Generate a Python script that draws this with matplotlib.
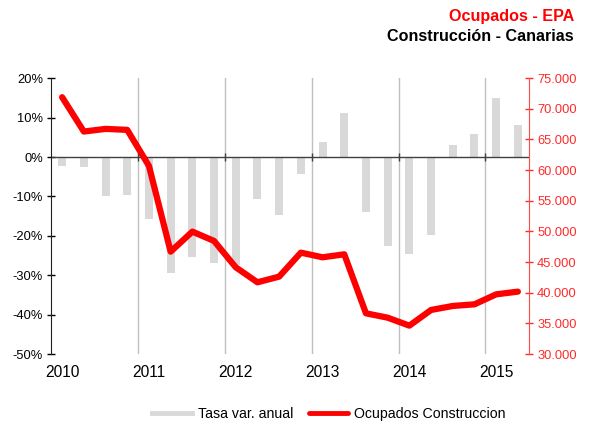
import matplotlib
matplotlib.use("Agg")
import matplotlib.pyplot as plt
from matplotlib.ticker import FuncFormatter
from matplotlib.lines import Line2D
import numpy as np

plt.rcParams['font.family'] = ['Liberation Sans', 'DejaVu Sans']

# quarterly data 2010Q1 - 2015Q2
quarters = ["2010T1", "2010T2", "2010T3", "2010T4",
            "2011T1", "2011T2", "2011T3", "2011T4",
            "2012T1", "2012T2", "2012T3", "2012T4",
            "2013T1", "2013T2", "2013T3", "2013T4",
            "2014T1", "2014T2", "2014T3", "2014T4",
            "2015T1", "2015T2"]
tasa_var = [-2.2, -2.5, -10.0, -9.7,
            -15.7, -29.5, -25.3, -27.0,
            -27.5, -10.7, -14.8, -4.3,
            3.9, 11.1, -14.0, -22.6,
            -24.5, -19.7, 3.0, 5.8,
            15.1, 8.1]
ocupados = [71900, 66300, 66730, 66570,
            60690, 46700, 49970, 48450,
            44150, 41700, 42630, 46540,
            45780, 46270, 36640, 35930,
            34630, 37190, 37840, 38110,
            39740, 40180]
year_labels = ["2010", "2011", "2012", "2013", "2014", "2015"]

x = np.arange(len(quarters))
year_pos = x[::4]
boundaries = year_pos - 0.5

fig = plt.figure(figsize=(6.09, 4.25), dpi=100)
ax = fig.add_axes([0.0842, 0.167, 0.784, 0.649])
ax2 = ax.twinx()

# gridlines at year boundaries
for b in boundaries[1:]:
    ax.axvline(b, color='#c0c0c0', lw=1, zorder=0)

ax.bar(x, tasa_var, width=0.37, color='#d9d9d9', zorder=1)
ax.axhline(0, color='#404040', lw=1, zorder=2)
ax.plot(boundaries[1:], np.zeros(len(boundaries) - 1), ls='none', marker='|',
        ms=6, mew=1, color='#404040', zorder=2)

line, = ax2.plot(x, ocupados, color='#ff0000', lw=4.5, solid_capstyle='round',
                 solid_joinstyle='round')

ax.set_xlim(-0.5, len(quarters) - 0.5)
ax.set_ylim(-50, 20)
ax.set_yticks(np.arange(-50, 21, 10))
ax.yaxis.set_major_formatter(FuncFormatter(lambda v, p: "%d%%" % v))
ax.tick_params(axis='y', direction='inout', length=6, width=1, labelsize=9.3, pad=3)
ax.set_xticks(year_pos)
ax.set_xticklabels(year_labels)
ax.tick_params(axis='x', length=0, labelsize=11.2, pad=8)

ax2.set_ylim(30000, 75000)
ax2.set_yticks(np.arange(30000, 75001, 5000))
ax2.yaxis.set_major_formatter(FuncFormatter(lambda v, p: "{:,}".format(int(v)).replace(",", ".")))
ax2.tick_params(axis='y', direction='inout', length=6, width=1, labelsize=9.3,
                colors='#ff2a2a', pad=3)

for a in (ax, ax2):
    a.spines['top'].set_visible(False)
    a.spines['bottom'].set_visible(False)
ax.spines['right'].set_visible(False)
ax2.spines['left'].set_visible(False)
ax.spines['left'].set_color('#202020')
ax2.spines['right'].set_color('#ff4a4a')

fig.text(0.9425, 0.96, "Ocupados - EPA", color='#ff0000', fontsize=11.6,
         fontweight='bold', ha='right', va='center')
fig.text(0.9425, 0.915, "Construcción - Canarias", color='black', fontsize=11.6,
         fontweight='bold', ha='right', va='center')

bar_handle = Line2D([], [], color='#d9d9d9', lw=3.5)
line_handle = Line2D([], [], color='#ff0000', lw=3.5, solid_capstyle='round')
fig.legend([bar_handle, line_handle], ['Tasa var. anual', 'Ocupados Construccion'],
           loc='center', bbox_to_anchor=(0.54, 0.026), ncol=2, frameon=False,
           fontsize=10.2, handlelength=2.8, columnspacing=1.1, handletextpad=0.4)

fig.savefig("out.png", dpi=100)
